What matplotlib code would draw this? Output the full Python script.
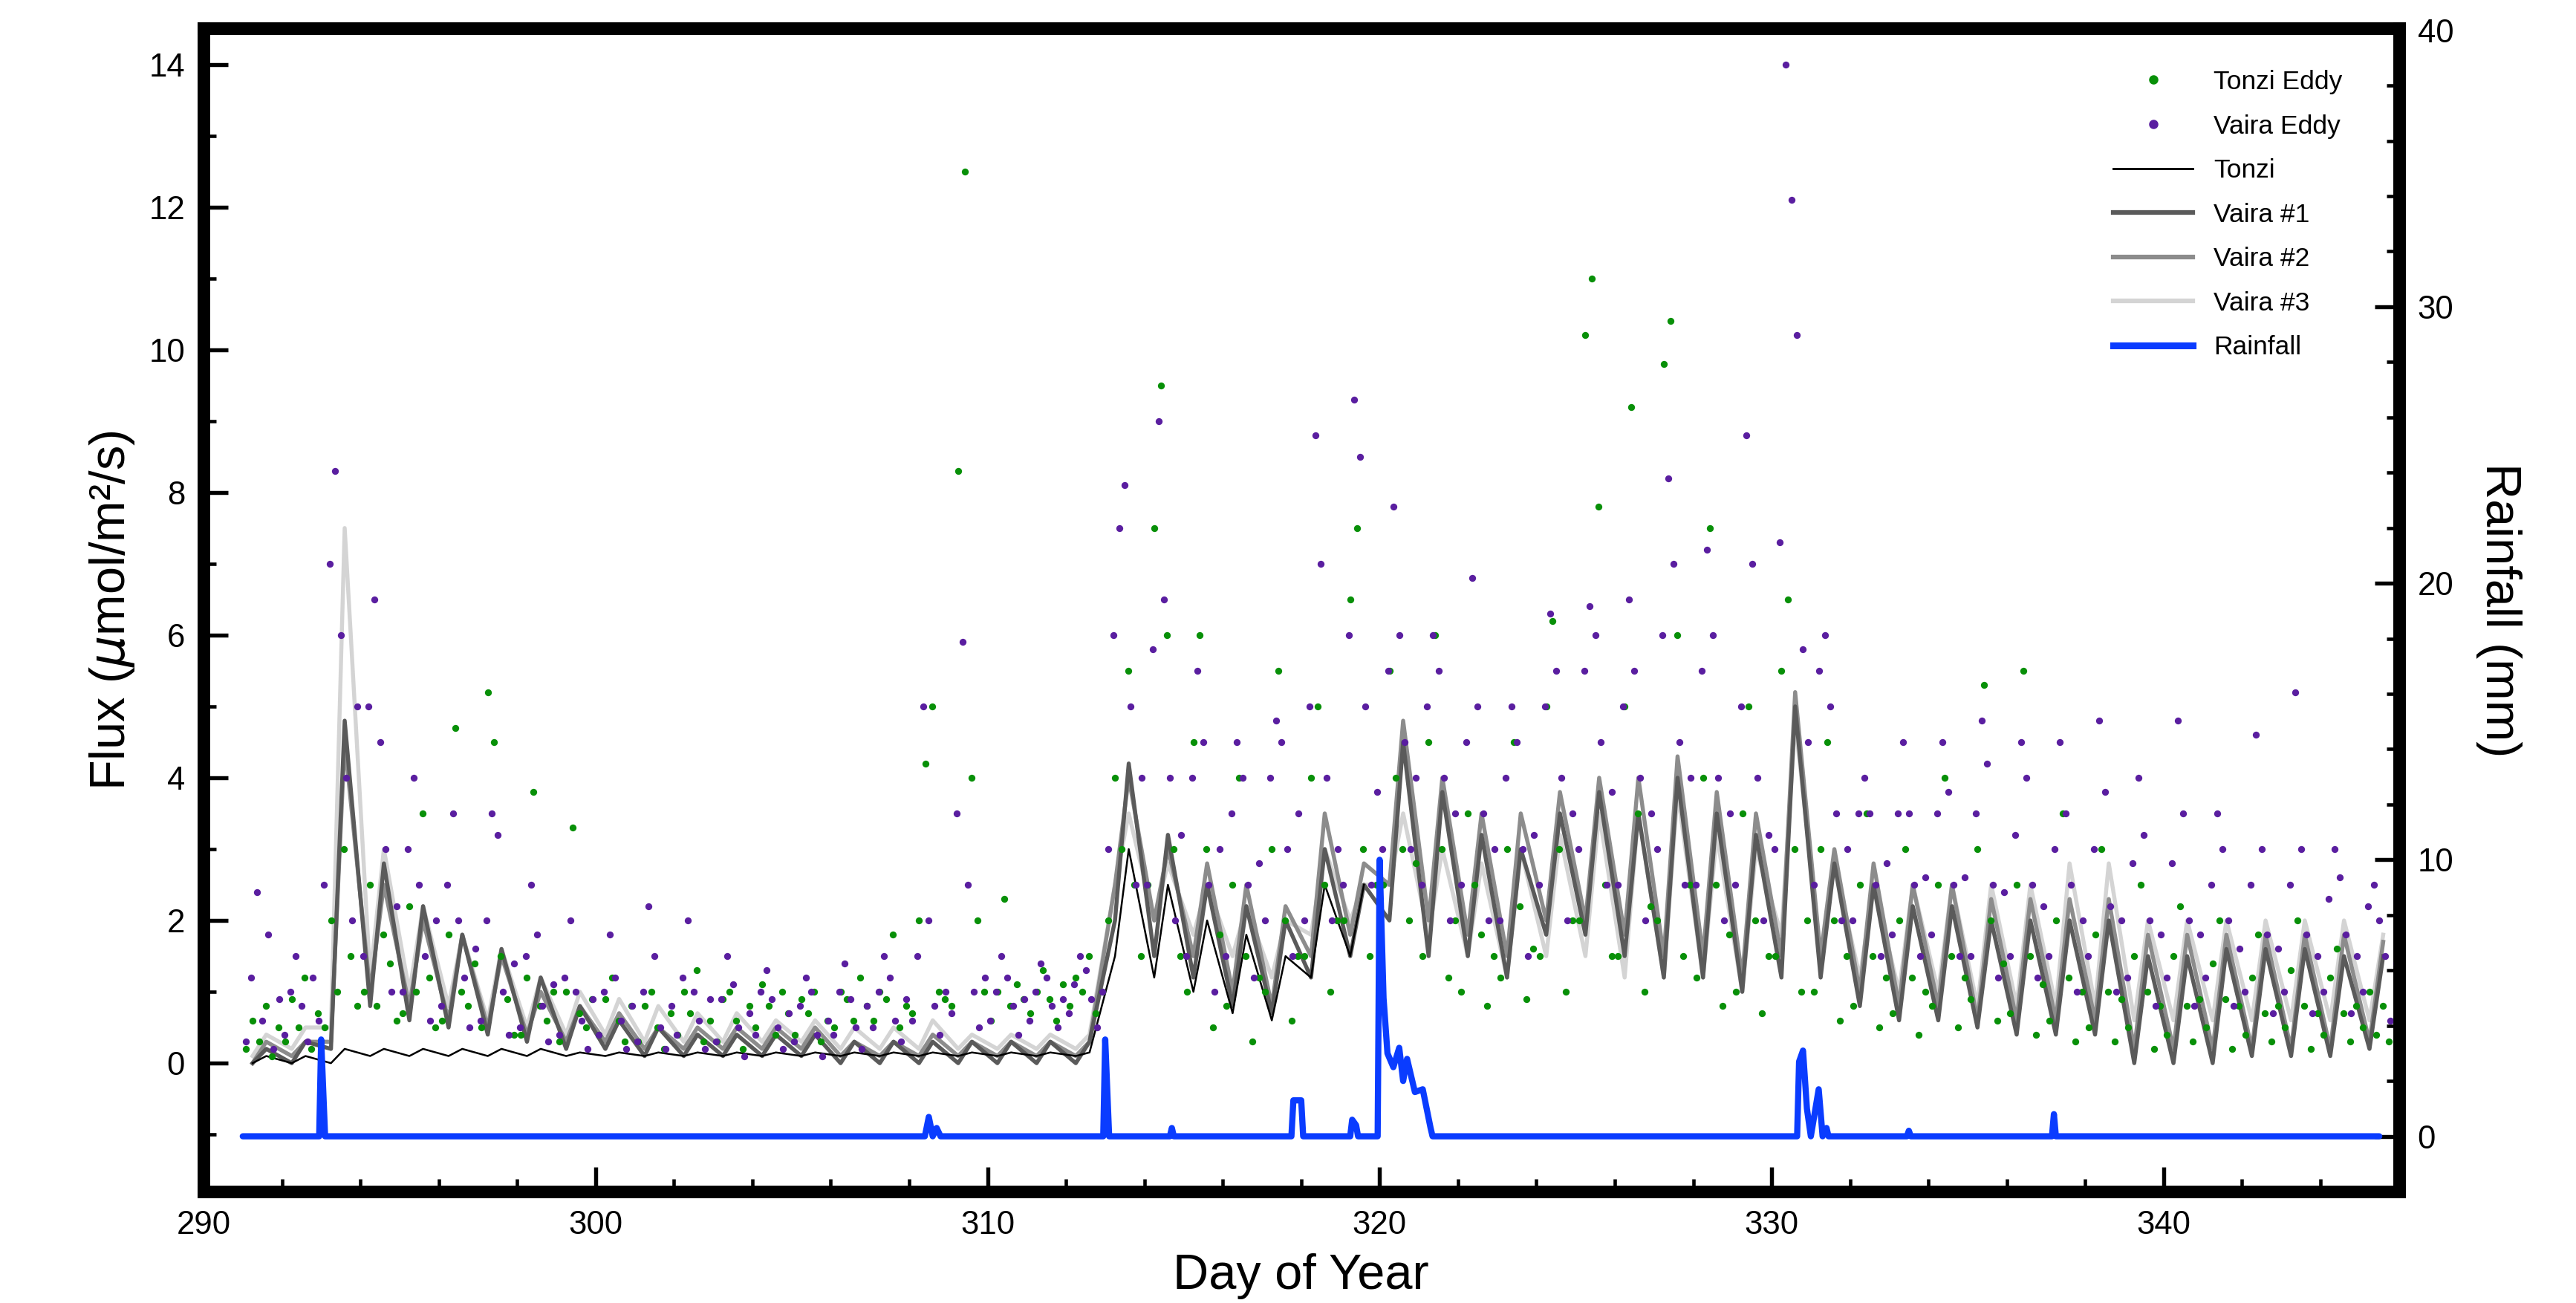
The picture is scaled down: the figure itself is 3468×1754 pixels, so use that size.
import numpy as np
import matplotlib.pyplot as plt
from matplotlib.ticker import MultipleLocator
from matplotlib.lines import Line2D

plt.rcParams['font.family'] = ['Liberation Sans', 'DejaVu Sans']

days = np.arange(291, 346)

# daily trough / peak of the chamber fluxes (umol/m2/s)
tonzi_lo = [0.0,0.0,0.0,0.1,0.1,0.1,0.1,0.1,0.1,0.1,0.1,0.1,0.1,0.1,0.1,0.1,0.1,0.1,0.1,0.1,0.1,0.1,1.5,1.2,1.0,0.7,0.6,1.2,1.5]
tonzi_hi = [0.1,0.1,0.2,0.2,0.2,0.2,0.2,0.2,0.15,0.15,0.15,0.15,0.15,0.15,0.15,0.15,0.15,0.15,0.15,0.15,0.15,0.15,3.0,2.5,2.0,1.8,1.5,2.5,2.5]
v1_lo = [0.0,0.0,0.2,0.8,0.6,0.5,0.4,0.3,0.2,0.2,0.1,0.1,0.1,0.1,0.1,0.0,0.0,0.0,0.0,0.0,0.0,0.0,2.0,1.5,1.2,0.8,0.7,1.2,1.5,2.0,1.5,1.5,1.2,1.8,1.8,1.5,1.2,1.2,1.0,1.2,1.2,0.8,0.6,0.6,0.5,0.4,0.4,0.4,0.0,0.0,0.0,0.1,0.1,0.1,0.2]
v1_hi = [0.2,0.3,4.8,2.8,2.2,1.8,1.6,1.2,0.8,0.6,0.5,0.4,0.4,0.4,0.4,0.3,0.3,0.3,0.3,0.3,0.3,0.3,4.2,3.2,2.5,2.2,2.0,3.0,2.5,4.5,3.8,3.2,3.0,3.5,3.8,3.5,4.0,3.5,3.2,5.0,2.8,2.5,2.2,2.2,2.0,2.0,2.0,2.0,1.5,1.5,1.6,1.6,1.6,1.5,1.5]
v2_lo = [0.0,0.1,0.3,1.0,0.8,0.6,0.5,0.4,0.3,0.3,0.2,0.2,0.2,0.2,0.2,0.1,0.1,0.1,0.1,0.1,0.1,0.1,2.5,2.0,1.5,1.0,0.8,1.5,1.8,2.5,2.0,1.8,1.5,2.0,2.0,1.8,1.5,1.5,1.2,1.5,1.5,1.0,0.8,0.8,0.6,0.6,0.6,0.6,0.2,0.2,0.2,0.2,0.2,0.2,0.3]
v2_hi = [0.3,0.3,4.5,2.5,2.0,1.8,1.5,1.0,0.8,0.7,0.5,0.5,0.5,0.5,0.5,0.3,0.3,0.4,0.3,0.3,0.3,0.3,4.0,3.0,2.8,2.5,2.2,3.5,2.8,4.8,4.0,3.5,3.5,3.8,4.0,4.0,4.3,3.8,3.5,5.2,3.0,2.8,2.5,2.5,2.3,2.3,2.3,2.3,1.8,1.8,1.8,1.8,1.8,1.8,1.7]
v3_lo = [0.1,0.2,0.5,1.2,1.0,0.8,0.6,0.5,0.4,0.4,0.3,0.3,0.3,0.3,0.3,0.2,0.2,0.2,0.2,0.2,0.2,0.2,2.5,2.0,1.8,1.5,1.2,1.8,2.0,2.5,1.8,1.5,1.2,1.5,1.5,1.2,1.2,1.2,1.0,1.8,1.5,1.2,1.0,1.0,0.8,0.8,0.8,0.8,0.6,0.6,0.6,0.6,0.6,0.6,0.6]
v3_hi = [0.4,0.5,7.5,3.0,2.2,1.8,1.6,1.2,1.0,0.9,0.8,0.7,0.7,0.6,0.6,0.5,0.5,0.6,0.4,0.4,0.4,0.4,3.5,2.8,2.5,2.2,2.0,3.0,2.5,3.5,3.0,2.8,3.0,3.2,3.5,3.5,3.8,3.2,3.0,4.8,2.8,2.5,2.5,2.5,2.5,2.5,2.8,2.8,2.0,2.0,2.0,2.0,2.0,2.0,1.8]

# eddy covariance fluxes, a handful of readings per day
tonzi_eddy = """
291: 0.2 0.6 0.3 0.8 0.1 0.5
292: 0.3 0.9 0.5 1.2 0.2 0.7
293: 0.5 2.0 1.0 3.0 1.5 0.8
294: 1.0 2.5 0.8 1.8 1.4 0.6
295: 0.7 2.2 1.0 3.5 1.2 0.5
296: 0.6 1.8 4.7 1.0 0.8 1.4
297: 0.5 5.2 4.5 1.5 0.9 0.4
298: 0.4 1.2 3.8 0.8 0.6 1.0
299: 0.3 1.0 3.3 0.7 0.5 0.9
300: 0.4 0.9 1.2 0.6 0.3 0.8
301: 0.3 0.8 1.0 0.5 0.2 0.7
302: 0.4 1.0 0.7 1.3 0.3 0.6
303: 0.3 0.9 1.0 0.6 0.2 0.8
304: 0.5 1.1 0.8 0.4 1.0 0.7
305: 0.4 0.9 0.7 1.0 0.3 0.6
306: 0.5 1.0 0.9 0.6 1.2 0.8
307: 0.6 1.0 0.9 1.8 0.5 0.8
308: 0.7 2.0 4.2 5.0 1.0 0.9
309: 0.8 8.3 12.5 4.0 2.0 1.0
310: 0.6 1.0 2.3 0.8 1.1 0.9
311: 0.7 1.0 1.3 0.9 0.6 1.1
312: 0.8 1.2 1.0 1.5 0.7 1.0
313: 2.0 4.0 3.0 5.5 2.5 1.5
314: 2.5 7.5 9.5 6.0 3.0 1.5
315: 1.0 4.5 6.0 3.0 0.5 1.8
316: 0.8 2.5 4.0 1.5 0.3 1.2
317: 1.0 3.0 5.5 2.0 0.6 1.5
318: 1.5 4.0 5.0 2.5 1.0 2.0
319: 2.0 6.5 7.5 3.0 1.5 2.5
320: 2.5 5.5 4.0 3.0 2.0 2.8
321: 1.5 4.5 6.0 3.0 1.2 2.0
322: 1.0 3.5 2.5 1.8 0.8 1.5
323: 1.2 3.0 4.5 2.2 0.9 1.6
324: 1.5 5.0 6.2 3.0 1.0 2.0
325: 2.0 10.2 11.0 7.8 2.5 1.5
326: 1.5 5.0 9.2 3.5 1.0 2.2
327: 2.0 9.8 10.4 6.0 1.5 2.5
328: 1.2 4.0 7.5 2.5 0.8 1.8
329: 1.0 3.5 5.0 2.0 0.7 1.5
330: 1.5 5.5 6.5 3.0 1.0 2.0
331: 1.0 3.0 4.5 2.0 0.6 1.5
332: 0.8 2.5 3.5 1.5 0.5 1.2
333: 0.7 2.0 3.0 1.2 0.4 1.0
334: 0.8 2.5 4.0 1.5 0.5 1.2
335: 0.9 3.0 5.3 2.0 0.6 1.4
336: 0.7 2.5 5.5 1.5 0.4 1.1
337: 0.6 2.0 3.5 1.2 0.3 1.0
338: 0.5 1.8 3.0 1.0 0.3 0.9
339: 0.5 1.5 2.5 1.0 0.2 0.8
340: 0.4 1.5 2.2 0.8 0.3 0.9
341: 0.5 1.4 2.0 0.9 0.2 0.8
342: 0.4 1.2 1.8 0.7 0.3 0.8
343: 0.5 1.3 2.0 0.8 0.2 0.7
344: 0.4 1.2 1.6 0.7 0.3 0.8
345: 0.5 1.0 0.4 0.8 0.3 0.6
"""
vaira_eddy = """
291: 0.3 1.2 2.4 0.6 1.8 0.2 0.9
292: 0.4 1.0 1.5 0.8 0.3 1.2 0.6
293: 2.5 7.0 8.3 6.0 4.0 2.0 5.0
294: 1.5 5.0 6.5 4.5 3.0 1.0 2.2
295: 1.0 3.0 4.0 2.5 1.5 0.6 2.0
296: 0.8 2.5 3.5 2.0 1.2 0.5 1.6
297: 0.6 2.0 3.5 3.2 1.0 0.4 1.4
298: 0.5 1.5 2.5 1.8 0.8 0.3 1.1
299: 0.4 1.2 2.0 1.0 0.6 0.2 0.9
300: 0.4 1.0 1.8 1.2 0.6 0.2 0.8
301: 0.3 1.0 2.2 1.5 0.5 0.2 0.8
302: 0.4 1.2 2.0 1.0 0.6 0.2 0.9
303: 0.3 0.9 1.5 1.1 0.5 0.1 0.7
304: 0.4 1.0 1.3 0.9 0.5 0.2 0.7
305: 0.3 0.8 1.2 1.0 0.4 0.1 0.6
306: 0.4 1.0 1.4 0.9 0.5 0.2 0.8
307: 0.5 1.0 1.5 1.2 0.6 0.3 0.9
308: 0.6 1.5 5.0 2.0 0.8 0.4 1.0
309: 0.7 3.5 5.9 2.5 1.0 0.5 1.2
310: 0.6 1.0 1.5 1.2 0.8 0.4 0.9
311: 0.6 1.0 1.4 1.2 0.8 0.5 0.9
312: 0.7 1.1 1.5 1.3 0.9 0.5 1.0
313: 3.0 6.0 7.5 8.1 5.0 2.5 4.0
314: 2.5 5.8 9.0 6.5 4.0 2.0 3.2
315: 1.5 4.0 5.5 4.5 2.5 1.0 3.0
316: 1.5 3.5 4.5 4.0 2.5 1.2 2.8
317: 2.0 4.0 4.8 4.5 3.0 1.5 3.5
318: 2.0 5.0 8.8 7.0 4.0 2.0 3.0
319: 2.5 6.0 9.3 8.5 5.0 2.5 3.8
320: 3.0 5.5 7.8 6.0 4.5 3.0 4.0
321: 2.5 5.0 6.0 5.5 4.0 2.0 3.5
322: 2.5 4.5 6.8 5.0 3.5 2.0 3.0
323: 2.0 4.0 5.0 4.5 3.0 1.5 3.2
324: 2.5 5.0 6.3 5.5 4.0 2.0 3.5
325: 3.0 5.5 6.4 6.0 4.5 2.5 3.8
326: 2.5 5.0 6.5 5.5 4.0 2.0 3.5
327: 3.0 6.0 8.2 7.0 4.5 2.5 4.0
328: 2.5 5.5 7.2 6.0 4.0 2.0 3.5
329: 2.5 5.0 8.8 7.0 4.0 2.0 3.2
330: 3.0 7.3 14.0 12.1 10.2 5.8 4.5
331: 2.5 5.5 6.0 5.0 3.5 2.0 3.0
332: 2.0 3.5 4.0 3.5 2.5 1.5 2.8
333: 1.8 3.5 4.5 3.5 2.5 1.5 2.6
334: 1.8 3.5 4.5 3.8 2.5 1.5 2.6
335: 1.5 3.5 4.8 4.2 2.5 1.2 2.4
336: 1.5 3.2 4.5 4.0 2.5 1.2 2.2
337: 1.5 3.0 4.5 3.5 2.5 1.0 2.0
338: 1.5 3.0 4.8 3.8 2.2 1.0 2.0
339: 1.2 2.8 4.0 3.2 2.0 0.8 1.8
340: 1.2 2.8 4.8 3.5 2.0 0.8 1.8
341: 1.2 2.5 3.5 3.0 2.0 0.8 1.6
342: 1.0 2.5 4.6 3.0 1.8 0.7 1.6
343: 1.0 2.5 5.2 3.0 1.8 0.7 1.5
344: 1.0 2.3 3.0 2.6 1.8 0.7 1.5
345: 1.0 2.2 2.5 2.0 1.5 0.6 1.4
"""

# rainfall (mm)
rain_day = [291.0, 292.95, 293.0, 293.1, 308.4, 308.5, 308.6, 308.7, 308.8, 312.95, 313.0, 313.1,
            314.65, 314.7, 314.75, 317.75, 317.8, 318.0, 318.05, 319.25, 319.3, 319.4, 319.45,
            319.95, 320.0, 320.1, 320.2, 320.35, 320.5, 320.6, 320.7, 320.9, 321.1, 321.3, 321.35,
            330.65, 330.7, 330.8, 330.9, 331.0, 331.2, 331.3, 331.4, 331.45,
            333.45, 333.5, 333.55, 337.15, 337.2, 337.25, 345.5]
rain_mm = [0, 0, 3.5, 0, 0, 0.7, 0, 0.3, 0, 0, 3.5, 0,
           0, 0.3, 0, 0, 1.3, 1.3, 0, 0, 0.6, 0.4, 0,
           0, 10.0, 5.0, 3.0, 2.5, 3.2, 2.0, 2.8, 1.6, 1.7, 0.3, 0,
           0, 2.7, 3.1, 1.0, 0, 1.7, 0, 0.3, 0,
           0, 0.2, 0, 0, 0.8, 0, 0]


def diurnal(lo, hi):
    t, v = [], []
    for d, a, b in zip(days, lo, hi):
        t += [d + 0.25, d + 0.6]
        v += [a, b]
    return np.array(t), np.array(v)


def parse(txt):
    x, y = [], []
    for row in txt.strip().splitlines():
        d, vals = row.split(':')
        vals = [float(s) for s in vals.split()]
        n = len(vals)
        for i, val in enumerate(vals):
            x.append(int(d) + (i + 0.5) / n)
            y.append(val)
    return x, y


fig = plt.figure(figsize=(11.563, 5.847), dpi=300)
ax = fig.add_axes([0.079, 0.0855, 0.852, 0.8925])
ax2 = ax.twinx()

tx, ty = parse(tonzi_eddy)
vx, vy = parse(vaira_eddy)
ax.scatter(tx, ty, s=5, color='#089008', linewidths=0, zorder=3)
ax.scatter(vx, vy, s=5, color='#5a1ea0', linewidths=0, zorder=3)

for lo, hi, c, lw in [(v3_lo, v3_hi, '#d4d4d4', 1.3), (v2_lo, v2_hi, '#8c8c8c', 1.3),
                      (v1_lo, v1_hi, '#5a5a5a', 1.3), (tonzi_lo, tonzi_hi, 'black', 0.6)]:
    t, v = diurnal(lo, hi)
    ax.plot(t, v, color=c, lw=lw, zorder=2)

ax2.plot(rain_day, rain_mm, color='#0a3cff', lw=2.0, solid_capstyle='round')

ax.set_xlim(290, 346)
ax.set_ylim(-1.8, 14.5)
ax2.set_ylim(-2, 40.06)
ax.xaxis.set_major_locator(MultipleLocator(10))
ax.xaxis.set_minor_locator(MultipleLocator(2))
ax.yaxis.set_major_locator(MultipleLocator(2))
ax.yaxis.set_minor_locator(MultipleLocator(1))
ax2.yaxis.set_major_locator(MultipleLocator(10))
ax2.yaxis.set_minor_locator(MultipleLocator(2))
for a in (ax, ax2):
    a.tick_params(which='major', direction='in', length=8, width=1.3, labelsize=10.5, pad=6)
    a.tick_params(which='minor', direction='in', length=4, width=1.1)
    for sp in a.spines.values():
        sp.set_linewidth(4)

ax.set_xlabel('Day of Year', fontsize=16, labelpad=4)
ax.set_ylabel('Flux ($\\mu$mol/m²/s)', fontsize=16)
ax2.set_ylabel('Rainfall (mm)', fontsize=16, rotation=270, labelpad=22)

handles = [Line2D([], [], ls='', marker='o', ms=2, color='#089008'),
           Line2D([], [], ls='', marker='o', ms=2, color='#5a1ea0'),
           Line2D([], [], color='black', lw=0.7),
           Line2D([], [], color='#5a5a5a', lw=1.5),
           Line2D([], [], color='#8c8c8c', lw=1.5),
           Line2D([], [], color='#d4d4d4', lw=1.5),
           Line2D([], [], color='#0a3cff', lw=2.2)]
labels = ['Tonzi Eddy', 'Vaira Eddy', 'Tonzi', 'Vaira #1', 'Vaira #2', 'Vaira #3', 'Rainfall']
ax2.legend(handles, labels, loc='upper right', bbox_to_anchor=(0.985, 0.985), frameon=False,
           fontsize=8.5, handlelength=3, labelspacing=0.75)

fig.savefig('out.png', dpi=300)
